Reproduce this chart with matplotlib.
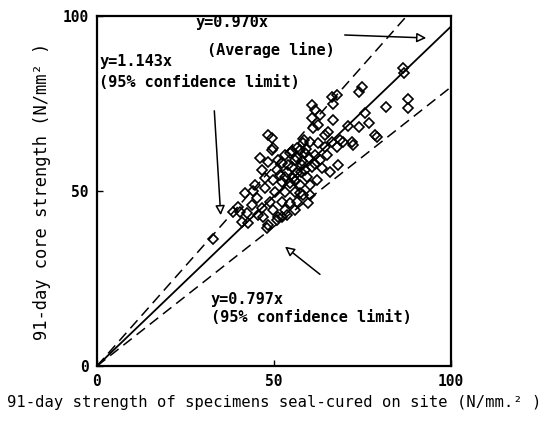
import numpy as np
import matplotlib
matplotlib.use("Agg")
import matplotlib.pyplot as plt

# 91-day strength: seal-cured specimens on site (x) vs core (y), N/mm2
x_seal = np.array([
    66.4, 66.7, 60.7, 61.6, 48.3, 49.4, 60.7, 62.4, 61.0, 66.7, 65.3, 66.4,
    67.8, 64.4, 62.4, 60.2, 58.2, 56.5, 49.7, 54.5, 58.8, 61.6, 65.0, 46.0,
    48.3, 52.3, 55.1, 57.9, 60.7, 63.6, 65.8, 68.1, 46.6, 50.8, 53.7, 56.5,
    59.3, 62.1, 47.5, 49.7, 52.3, 54.5, 57.3, 60.2, 44.6, 47.5, 50.3, 53.1,
    55.9, 58.2, 41.8, 45.2, 48.9, 52.3, 54.5, 56.5, 39.8, 43.8, 46.6, 49.7,
    53.1, 55.9, 38.4, 42.4, 45.5, 51.1, 53.7, 41.0, 42.7, 48.3, 50.8, 48.0,
    49.4, 44.1, 40.4, 32.8, 46.9, 52.3, 57.3, 59.6, 60.2,
    86.4, 86.7, 74.9, 74.0, 67.8, 81.6, 87.9, 87.9, 75.7, 76.8, 74.0, 70.9,
    78.5, 79.1, 68.6, 69.5, 72.0, 72.3,
    55.9, 57.3, 53.1, 58.8, 55.4, 51.7, 63.0, 64.4, 63.0,
    56.5, 58.0, 59.0, 55.0, 57.5, 60.0, 54.0, 56.0, 61.5, 53.0, 51.0, 58.5,
])
y_core = np.array([
    76.9, 74.9, 74.6, 73.1, 66.0, 65.1, 70.9, 68.9, 68.0, 70.3, 66.9, 64.0,
    62.6, 62.6, 63.7, 64.0, 63.7, 62.3, 62.3, 60.9, 60.9, 60.3, 60.3, 59.4,
    58.3, 58.0, 56.9, 57.4, 56.9, 56.6, 55.4, 57.4, 56.0, 56.0, 55.4, 55.1,
    54.0, 53.1, 53.7, 53.1, 52.6, 52.3, 51.7, 51.7, 51.7, 50.9, 49.7, 49.7,
    49.7, 48.9, 49.4, 48.0, 46.9, 46.9, 46.6, 46.9, 45.4, 46.0, 45.1, 44.6,
    44.6, 44.6, 44.0, 43.7, 43.1, 42.6, 43.1, 41.1, 40.9, 40.3, 41.7, 39.4,
    61.7, 50.0, 44.0, 36.3, 42.6, 42.6, 49.4, 46.6, 48.9,
    85.1, 83.7, 79.7, 78.3, 77.4, 74.0, 76.3, 73.7, 72.3, 69.4, 68.3, 68.6,
    66.0, 65.4, 64.6, 64.0, 64.0, 63.1,
    58.9, 61.7, 60.3, 56.0, 53.7, 54.6, 58.9, 66.0, 71.7,
    59.5, 58.5, 62.0, 61.5, 55.5, 59.5, 57.5, 52.8, 57.8, 54.0, 59.0, 64.5,
])

slope_avg = 0.970
slope_upper = 1.143
slope_lower = 0.797

plt.rcParams["font.family"] = ["DejaVu Sans Mono"]
plt.rcParams["font.weight"] = "bold"

fig = plt.figure(figsize=(5.58, 4.21), dpi=100)
ax = fig.add_axes([0.1738, 0.1306, 0.6344, 0.8314])

ax.plot(x_seal, y_core, "D", ms=5, mfc="none", mec="black", mew=1.2)

xx = np.linspace(0, 100, 200)
ax.plot(xx, slope_avg * xx, color="black", lw=1.3)
ax.plot(xx, slope_upper * xx, color="black", lw=1.1, ls=(0, (7, 4)))
ax.plot(xx, slope_lower * xx, color="black", lw=1.1, ls=(0, (7, 4)))

ax.set_xlim(0, 100)
ax.set_ylim(0, 100)
ax.set_xticks([0, 50, 100])
ax.set_yticks([0, 50, 100])
ax.tick_params(direction="in", length=4, width=1, labelsize=10.5, pad=6)
for s in ax.spines.values():
    s.set_linewidth(1.6)

ax.set_xlabel("91-day strength of specimens seal-cured on site (N/mm.\u00b2 )",
              fontsize=11.2, labelpad=4)
ax.set_ylabel("91-day core strength (N/mm\u00b2 )", fontsize=12.3, labelpad=8)

fs = 11
ax.text(27.7, 98.0, "y=0.970x", fontsize=fs, ha="left", va="center")
ax.text(31.1, 90.3, "(Average line)", fontsize=fs, ha="left", va="center")
ax.text(0.6, 86.9, "y=1.143x", fontsize=fs, ha="left", va="center")
ax.text(0.6, 81.1, "(95% confidence limit)", fontsize=fs, ha="left", va="center")
ax.text(32.2, 18.9, "y=0.797x", fontsize=fs, ha="left", va="center")
ax.text(32.2, 14.0, "(95% confidence limit)", fontsize=fs, ha="left", va="center")

arrow = dict(arrowstyle="-|>", fc="white", ec="black", lw=1.1, mutation_scale=14)
ax.annotate("", xy=(93.8, 93.7), xytext=(69.2, 94.6), arrowprops=arrow)
ax.annotate("", xy=(35.0, 42.3), xytext=(33.1, 73.7), arrowprops=arrow)
ax.annotate("", xy=(52.5, 34.6), xytext=(63.6, 25.7), arrowprops=arrow)

fig.savefig("out.png", dpi=100)
